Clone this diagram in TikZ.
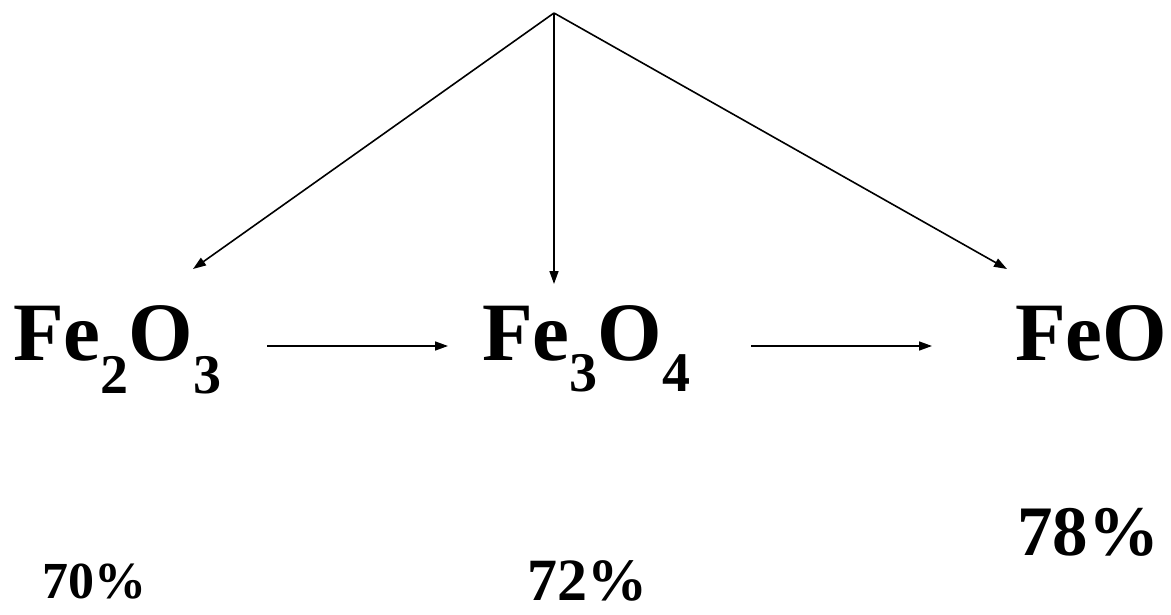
\documentclass[tikz,border=0pt]{standalone}
\usepackage{fontspec}
\setmainfont{Liberation Serif}
\usetikzlibrary{arrows.meta}
\newcommand\chsub[2]{\raisebox{-#2pt}{\fontsize{56}{56}\selectfont #1}}
\tikzset{
  formula/.style={anchor=base west, inner sep=0pt, font=\fontsize{83}{90}\selectfont\bfseries},
  pct/.style={anchor=base west, inner sep=0pt},
  conn/.style={line width=1.6pt, -{Triangle[length=13pt,width=9pt]}}
}
\begin{document}
\begin{tikzpicture}[x=1pt,y=-1pt]
\useasboundingbox (0,0) rectangle (1171,615);
\node[formula] (a) at (13,360) {Fe\chsub{2}{33}O\chsub{3}{33}};
\node[formula] (b) at (482,360) {Fe\chsub{3}{31}O\chsub{4}{31}};
\node[formula] (c) at (1015,360) {FeO};
\node[pct, font=\fontsize{52}{60}\selectfont\bfseries] (pa) at (42,598) {70\%};
\node[pct, font=\fontsize{60}{66}\selectfont\bfseries] (pb) at (527,600) {72\%};
\node[pct, font=\fontsize{71}{78}\selectfont\bfseries] (pc) at (1017,555) {78\%};
\coordinate (top) at (554,13);
\coordinate (ta) at (193,269);
\coordinate (tb) at (554,284);
\coordinate (tc) at (1007,269);
\coordinate (h1s) at (267,346);
\coordinate (h1e) at (448,346);
\coordinate (h2s) at (751,346);
\coordinate (h2e) at (932,346);
\draw[conn] (top) -- (ta);
\draw[conn] (top) -- (tb);
\draw[conn] (top) -- (tc);
\draw[conn] (h1s) -- (h1e);
\draw[conn] (h2s) -- (h2e);
\end{tikzpicture}
\end{document}
